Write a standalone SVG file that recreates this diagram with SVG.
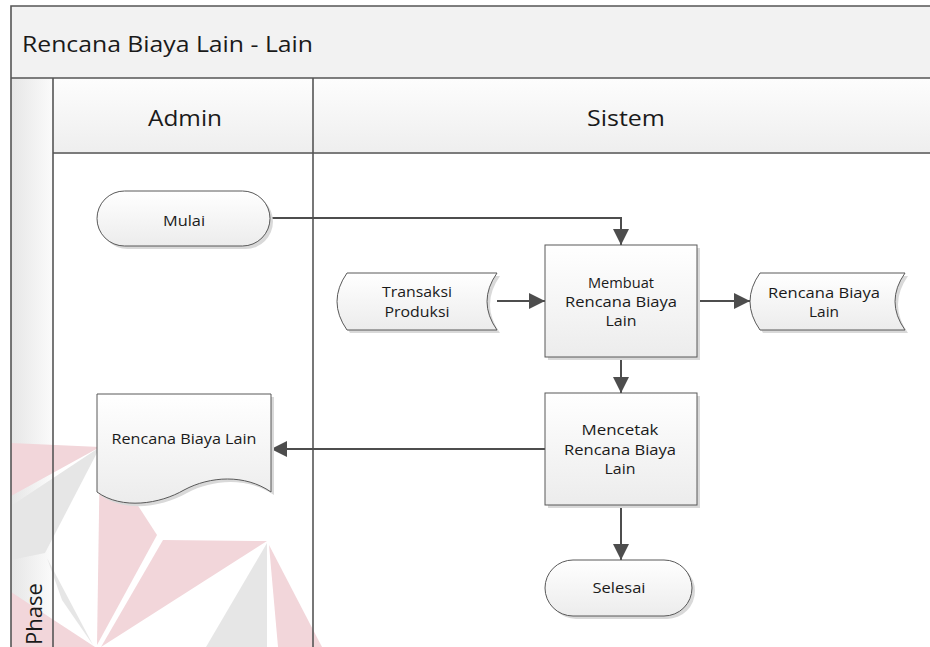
<svg xmlns="http://www.w3.org/2000/svg" width="930" height="647" viewBox="0 0 930 647">
  <defs>
    <linearGradient id="nodeFill" x1="0" y1="0" x2="0" y2="1">
      <stop offset="0" stop-color="#ffffff"/>
      <stop offset="1" stop-color="#ececec"/>
    </linearGradient>
    <linearGradient id="headFill" x1="0" y1="0" x2="0" y2="1">
      <stop offset="0" stop-color="#fdfdfd"/>
      <stop offset="1" stop-color="#eeeeee"/>
    </linearGradient>
    <linearGradient id="phaseFill" x1="0" y1="0" x2="1" y2="0">
      <stop offset="0" stop-color="#e6e6e6"/>
      <stop offset="1" stop-color="#fbfbfb"/>
    </linearGradient>
    <marker id="arrowBig" viewBox="0 0 16 16" refX="16" refY="8" markerWidth="16" markerHeight="16" markerUnits="userSpaceOnUse" orient="auto">
      <path d="M0,0 L16,8 L0,16 Z" fill="#4d4d4d"/>
    </marker>
  </defs>
  <style>
    .frame { fill: none; stroke: #555555; stroke-width: 1.6; }
    .node { fill: url(#nodeFill); stroke: #595959; stroke-width: 1; }
    .shadow { fill: #d9d9d9; stroke: none; }
    .edge { fill: none; stroke: #4d4d4d; stroke-width: 2; marker-end: url(#arrowBig); }
    .label { font-family: "Open Sans", "Noto Sans", "DejaVu Sans", sans-serif; font-size: 14.5px; fill: #1a1a1a; text-anchor: middle; }
    .head { font-family: "Open Sans", "Noto Sans", "DejaVu Sans", sans-serif; font-size: 22px; fill: #1a1a1a; }
    .mark-red { fill: #f2d6da; }
    .mark-grey { fill: #e6e6e6; }
  </style>

  <rect x="0" y="0" width="930" height="647" fill="#ffffff"/>

  <!-- pool background -->
  <rect x="11" y="6" width="930" height="72" fill="#f2f2f2"/>
  <rect x="11" y="78" width="42" height="580" fill="url(#phaseFill)"/>
  <rect x="53" y="78" width="880" height="76" fill="url(#headFill)"/>

  <!-- faint logo mark in the lower left -->
  <g id="logo-mark">
    <polygon class="mark-red" points="11,443 100,447 11,496"/>
    <polygon class="mark-grey" points="11,506 100,447 45,553 11,560"/>
    <polygon class="mark-grey" points="47,558 93,645 62,600"/>
    <polygon class="mark-red" points="100,447 157,535 97,645"/>
    <polygon class="mark-red" points="163,540 267,541 101,647"/>
    <polygon class="mark-grey" points="267,543 267,647 206,647"/>
    <polygon class="mark-red" points="269,545 322,647 278,647"/>
    <polygon class="mark-red" points="11,592 95,647 11,647"/>
  </g>

  <!-- pool and lane borders -->
  <g id="pool">
    <path class="frame" d="M940,6 H11 V660"/>
    <line class="frame" x1="11" y1="78" x2="940" y2="78"/>
    <line class="frame" x1="53" y1="153" x2="940" y2="153"/>
    <line class="frame" x1="53" y1="78" x2="53" y2="660"/>
    <line class="frame" x1="313" y1="78" x2="313" y2="660"/>
    <text class="head" x="22" y="52" textLength="291" lengthAdjust="spacingAndGlyphs">Rencana Biaya Lain - Lain</text>
    <text class="head" x="185" y="126" text-anchor="middle" textLength="74" lengthAdjust="spacingAndGlyphs">Admin</text>
    <text class="head" x="626" y="126" text-anchor="middle" textLength="78" lengthAdjust="spacingAndGlyphs">Sistem</text>
    <text class="head" x="0" y="0" font-size="13.5" transform="translate(42,645) rotate(-90)">Phase</text>
  </g>

  <!-- connectors -->
  <g id="connectors">
    <path class="edge" d="M270,218 H621 V245"/>
    <path class="edge" d="M497,301 H545"/>
    <path class="edge" d="M697,301 H750"/>
    <path class="edge" d="M621,357 V393"/>
    <path class="edge" d="M545,449 H271"/>
    <path class="edge" d="M621,505 V560"/>
  </g>

  <!-- start -->
  <g id="mulai">
    <rect class="shadow" x="100" y="194" width="173" height="55" rx="27.5"/>
    <rect class="node" x="97" y="191" width="173" height="55" rx="27.5"/>
    <text class="label" x="184" y="226" textLength="42" lengthAdjust="spacingAndGlyphs">Mulai</text>
  </g>

  <!-- process: create plan -->
  <g id="membuat">
    <rect class="shadow" x="548" y="248" width="152" height="112"/>
    <rect class="node" x="545" y="245" width="152" height="112"/>
    <text class="label" x="621" y="288" textLength="66" lengthAdjust="spacingAndGlyphs">Membuat</text>
    <text class="label" x="621" y="307" textLength="112" lengthAdjust="spacingAndGlyphs">Rencana Biaya</text>
    <text class="label" x="621" y="326" textLength="31" lengthAdjust="spacingAndGlyphs">Lain</text>
  </g>

  <!-- stored data: production transactions -->
  <g id="transaksi">
    <path class="shadow" transform="translate(3,3)" d="M347,273 H497 Q477,301.5 497,330 H347 Q327,301.5 347,273 Z"/>
    <path class="node" d="M347,273 H497 Q477,301.5 497,330 H347 Q327,301.5 347,273 Z"/>
    <text class="label" x="417" y="297" textLength="70" lengthAdjust="spacingAndGlyphs">Transaksi</text>
    <text class="label" x="417" y="317" textLength="65" lengthAdjust="spacingAndGlyphs">Produksi</text>
  </g>

  <!-- stored data: other cost plan -->
  <g id="rencana-data">
    <path class="shadow" transform="translate(3,3)" d="M760,273 H905 Q885,301.5 905,330 H760 Q740,301.5 760,273 Z"/>
    <path class="node" d="M760,273 H905 Q885,301.5 905,330 H760 Q740,301.5 760,273 Z"/>
    <text class="label" x="824" y="298" textLength="112" lengthAdjust="spacingAndGlyphs">Rencana Biaya</text>
    <text class="label" x="824" y="317" textLength="30" lengthAdjust="spacingAndGlyphs">Lain</text>
  </g>

  <!-- process: print plan -->
  <g id="mencetak">
    <rect class="shadow" x="548" y="396" width="152" height="112"/>
    <rect class="node" x="545" y="393" width="152" height="112"/>
    <text class="label" x="620" y="435" textLength="77" lengthAdjust="spacingAndGlyphs">Mencetak</text>
    <text class="label" x="620" y="455" textLength="112" lengthAdjust="spacingAndGlyphs">Rencana Biaya</text>
    <text class="label" x="620" y="474" textLength="31" lengthAdjust="spacingAndGlyphs">Lain</text>
  </g>

  <!-- printed document -->
  <g id="dokumen">
    <path class="shadow" transform="translate(3,3)" d="M97,394 H271 V492 C245,474 210,476 184,490 C160,504 122,510 97,492 Z"/>
    <path class="node" d="M97,394 H271 V492 C245,474 210,476 184,490 C160,504 122,510 97,492 Z"/>
    <text class="label" x="184" y="444" textLength="145" lengthAdjust="spacingAndGlyphs">Rencana Biaya Lain</text>
  </g>

  <!-- end -->
  <g id="selesai">
    <rect class="shadow" x="548" y="563" width="147" height="56" rx="28"/>
    <rect class="node" x="545" y="560" width="147" height="56" rx="28"/>
    <text class="label" x="619" y="593" textLength="53" lengthAdjust="spacingAndGlyphs">Selesai</text>
  </g>
</svg>
